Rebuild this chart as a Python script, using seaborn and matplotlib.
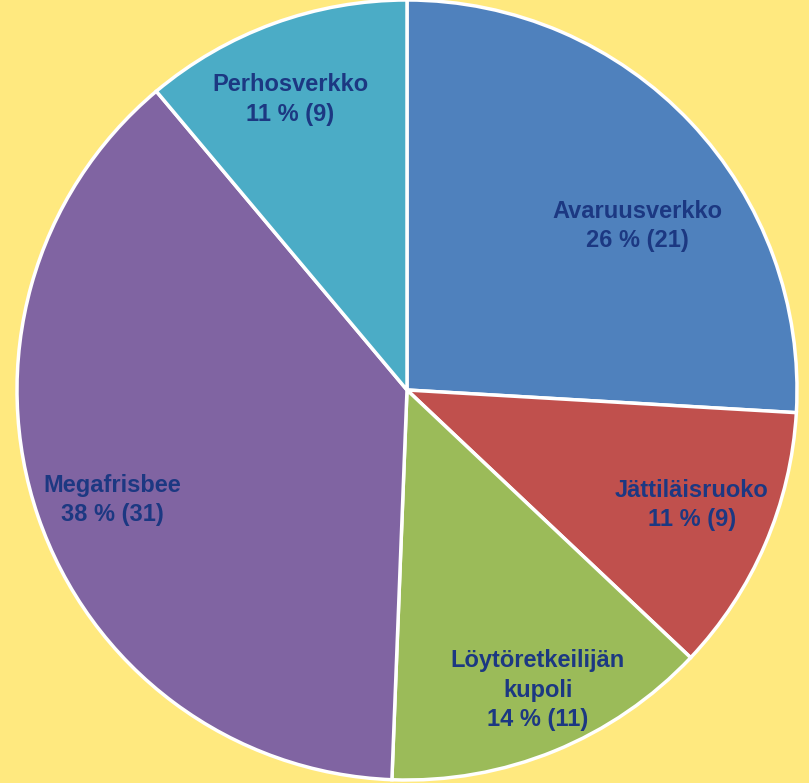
import numpy as np
import matplotlib
matplotlib.use("Agg")
import matplotlib.pyplot as plt
import seaborn as sns

# data
nimet = ["Avaruusverkko", "Jättiläisruoko", "Löytöretkeilijän\nkupoli", "Megafrisbee", "Perhosverkko"]
maarat = [21, 9, 11, 31, 9]
varit = ["#4F81BD", "#C0504D", "#9BBB59", "#8064A2", "#4BACC6"]

# label positions inside the pie (unit circle coords)
label_xy = [(0.59, 0.42), (0.73, -0.295), (0.335, -0.77), (-0.755, -0.282), (-0.30, 0.745)]

sns.set_style("white")
plt.rcParams['font.family'] = ['Liberation Sans', 'DejaVu Sans']

fig = plt.figure(figsize=(8.09, 7.83), dpi=100)
fig.patch.set_facecolor("#FFE97F")
ax = fig.add_axes([17/809, 3/783, 780/809, 780/783])
ax.set_facecolor("none")

palette = sns.color_palette(varit)
ax.pie(maarat, colors=palette, startangle=90, counterclock=False, radius=1,
       wedgeprops=dict(edgecolor="white", linewidth=2.5))

total = sum(maarat)
for nimi, n, (x, y) in zip(nimet, maarat, label_xy):
    pct = round(n * 100 / total)
    ax.text(x, y, f"{nimi}\n{pct} % ({n})", ha="center", va="center",
            fontsize=17, fontweight="bold", color="#1C3882", linespacing=1.35)

ax.set_xlim(-1, 1)
ax.set_ylim(-1, 1)
ax.axis("off")

fig.savefig("out.png", dpi=100, facecolor=fig.get_facecolor())
